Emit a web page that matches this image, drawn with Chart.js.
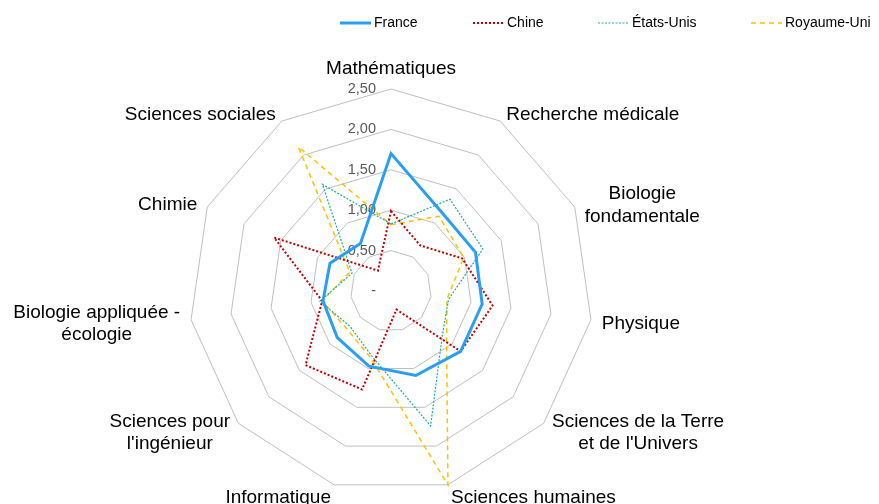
<!DOCTYPE html>
<html>
<head>
<meta charset="utf-8">
<script src="https://cdn.jsdelivr.net/npm/chart.js@4/dist/chart.umd.min.js"></script>
<style>
  html, body { margin: 0; padding: 0; background: #ffffff; }
  #wrap { width: 879px; height: 504px; }
</style>
</head>
<body>
<div id="wrap"><canvas id="c" width="879" height="504"></canvas></div>
<script>
// ---- Data ----
const categories = [
  'Mathématiques',
  'Recherche médicale',
  ['Biologie', 'fondamentale'],
  'Physique',
  ['Sciences de la Terre', "et de l'Univers"],
  'Sciences humaines',
  'Informatique',
  ['Sciences pour', "l'ingénieur"],
  ['Biologie appliquée -', 'écologie'],
  'Chimie',
  'Sciences sociales'
];
const seriesNames = ['France', 'Chine', 'États-Unis', 'Royaume-Uni'];
const france     = [1.70, 1.16, 1.15, 1.14, 1.14, 1.09, 0.97, 0.88, 0.85, 0.83, 0.70];
const chine      = [0.99, 0.67, 0.97, 1.27, 1.14, 0.24, 1.27, 1.40, 0.86, 1.59, 0.30];
const etatsUnis  = [0.83, 1.35, 1.25, 0.72, 0.84, 1.74, 0.84, 0.67, 0.89, 0.53, 1.57];
const royaumeUni = [0.82, 1.10, 0.99, 0.70, 0.91, 2.50, 0.87, 0.72, 0.86, 0.56, 2.12];
const tickValues = [0, 0.5, 1.0, 1.5, 2.0, 2.5];
const tickLabels = ['-', '0,50', '1,00', '1,50', '2,00', '2,50'];

// ---- Styles ----
const styles = [
  { color: '#2A9DF4', width: 3,   dash: [] },
  { color: '#C00000', width: 2,   dash: [2, 2] },
  { color: '#1AAE9F', width: 1.2, dash: [2, 1.5] },
  { color: '#FFC000', width: 1.5, dash: [5, 4] }
];
const legendX = [340, 473, 598, 751];
const FONT = '"Liberation Sans", Arial, sans-serif';

const customPlugin = {
  id: 'customPlugin',
  beforeDatasetsDraw(chart) {
    const s = chart.scales.r;
    const ctx = chart.ctx;
    ctx.save();
    ctx.font = '14.5px ' + FONT;
    ctx.fillStyle = '#595959';
    ctx.textAlign = 'right';
    ctx.textBaseline = 'middle';
    tickValues.forEach((v, i) => {
      const y = s.yCenter - s.getDistanceFromCenterForValue(v);
      ctx.fillText(tickLabels[i], s.xCenter - 15, y);
    });
    ctx.restore();
  },
  afterDraw(chart) {
    const s = chart.scales.r;
    const ctx = chart.ctx;
    ctx.save();
    // point labels
    ctx.font = '19px ' + FONT;
    ctx.fillStyle = '#000000';
    ctx.textBaseline = 'middle';
    ctx.textAlign = 'center';
    const lh = 22.5;
    chart.data.labels.forEach((lab, i) => {
      const lines = Array.isArray(lab) ? lab : [lab];
      const pos = s.getPointPosition(i, s.drawingArea + 11);
      const dx = pos.x - s.xCenter;
      const dy = pos.y - s.yCenter;
      const bw = Math.max(...lines.map(l => ctx.measureText(l).width));
      let cx;
      if (Math.abs(dx) < 1) cx = pos.x;
      else if (dx > 0) cx = pos.x + bw / 2;
      else cx = pos.x - bw / 2;
      let cy = pos.y + 2.5;
      if (Math.abs(dx) < 1 && dy < 0) cy = pos.y - lh * lines.length / 2 + 2;
      lines.forEach((l, k) => {
        ctx.fillText(l, cx, cy + (k - (lines.length - 1) / 2) * lh);
      });
    });
    // legend
    ctx.font = '14px ' + FONT;
    ctx.textAlign = 'left';
    ctx.textBaseline = 'middle';
    const ly = 23;
    seriesNames.forEach((name, i) => {
      const st = styles[i];
      const x0 = legendX[i];
      ctx.beginPath();
      ctx.setLineDash(st.dash);
      ctx.lineWidth = st.width;
      ctx.strokeStyle = st.color;
      ctx.moveTo(x0, ly);
      ctx.lineTo(x0 + 31, ly);
      ctx.stroke();
      ctx.setLineDash([]);
      ctx.fillStyle = '#000000';
      ctx.fillText(name, x0 + 34, ly);
    });
    ctx.restore();
  }
};

const seriesData = [france, chine, etatsUnis, royaumeUni];
const datasets = seriesNames.map((name, i) => ({
  label: name,
  data: seriesData[i],
  borderColor: styles[i].color,
  backgroundColor: 'transparent',
  borderWidth: styles[i].width,
  borderDash: styles[i].dash,
  borderJoinStyle: 'miter',
  fill: false,
  pointRadius: 0,
  pointHoverRadius: 0,
  tension: 0
}));

new Chart(document.getElementById('c'), {
  type: 'radar',
  data: { labels: categories, datasets },
  options: {
    responsive: false,
    animation: false,
    devicePixelRatio: 1,
    layout: { padding: { top: 89, bottom: 11, left: 189, right: 286 } },
    plugins: {
      legend: { display: false },
      tooltip: { enabled: false },
      title: { display: false }
    },
    scales: {
      r: {
        min: 0,
        max: 2.5,
        ticks: { stepSize: 0.5, display: false },
        angleLines: { display: false },
        grid: { color: '#BFBFBF', lineWidth: 1, circular: false },
        pointLabels: { display: false }
      }
    },
    elements: { line: { tension: 0 } }
  },
  plugins: [customPlugin]
});
</script>
</body>
</html>
